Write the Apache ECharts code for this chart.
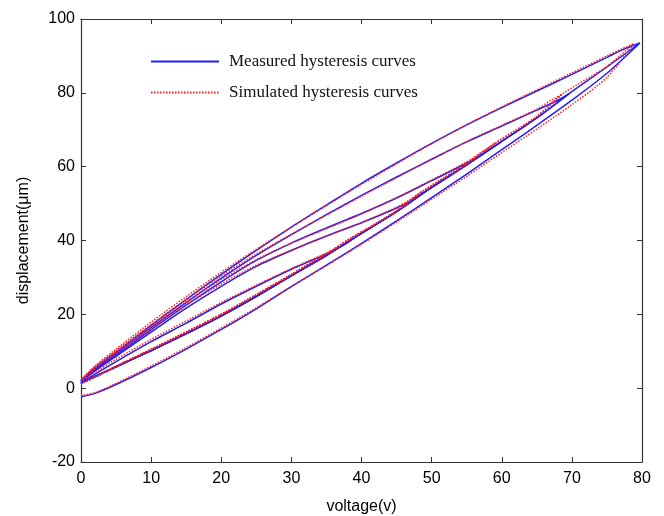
<!DOCTYPE html>
<html>
<head>
    <meta charset="UTF-8">
    <title>index.html</title>
    <script src="https://cdn.jsdelivr.net/npm/echarts@6.0.0/dist/echarts.min.js"></script>
    <style>
        body { margin: 0; background: #fff; }
        #chart { width: 664px; height: 516px; }
    </style>
</head>
<body>
<div id="chart"></div>
<script>
    // x ticks / y ticks
    var voltTicks = [0, 10, 20, 30, 40, 50, 60, 70, 80];
    var dispTicks = [-20, 0, 20, 40, 60, 80, 100];

    // peak voltages of the loops (measured / simulated)
    var measPeaks = [39, 49.3, 59.8, 69.6];
    var simPeaks = [38.5, 48.6, 59.1, 68.6];

    // measured: rising branch shared by the minor loops
    var measAsc = [[0, 1.5], [2, 3.2], [5, 5.8], [10, 10.2], [15, 14.8], [20, 19.6], [25, 24.9], [30, 30.5], [35, 36],
        [39, 40.8], [45, 47.8], [49.3, 53.5], [55, 60.5], [59.8, 66.6], [65, 73.2], [69.6, 79.8], [75, 87], [79.7, 93.5]];
    // measured: rising branch of the 80 V loop
    var measAsc80 = [[0, -2.3], [2, -1.4], [5, 1], [10, 5.6], [15, 10.6], [20, 15.9], [25, 21.5], [30, 27.5], [35, 33.3],
        [40, 39.2], [45, 45.3], [50, 51.6], [55, 58], [60, 64.6], [65, 71.2], [70, 78], [75, 85.3], [79.7, 93.5]];
    // measured: falling branches
    var measDesc80 = [[79.7, 93.5], [77, 91.5], [75, 89.6], [70, 85], [65, 80.5], [60, 76], [55, 71.3], [50, 66.3], [45, 61],
        [40, 55.5], [35, 49.6], [30, 43.6], [25, 37.3], [20, 30.8], [15, 24], [10, 17], [5, 9.8], [2, 5.5], [0, 2]];
    var measDesc70 = [[69.6, 79.8], [68, 78], [65, 75.3], [60, 71], [55, 66.7], [50, 62], [45, 57.2], [40, 52.2], [35, 47],
        [30, 41.6], [25, 36], [20, 29.8], [15, 23.2], [10, 16.4], [5, 9.4], [2, 5.2], [0, 1.9]];
    var measDesc60 = [[59.8, 66.6], [58, 64.4], [55, 61], [50, 56.2], [45, 51.5], [40, 47.3], [35, 43.4], [30, 39.3],
        [25, 34.6], [20, 28.8], [15, 22.5], [10, 15.8], [5, 9], [2, 5], [0, 1.8]];
    var measDesc50 = [[49.3, 53.5], [47.5, 51.3], [45, 48.8], [40, 44.8], [35, 41.2], [30, 37.3], [25, 33], [20, 27.6],
        [15, 21.7], [10, 15.2], [5, 8.6], [2, 4.7], [0, 1.7]];
    var measDesc40 = [[39, 40.8], [37.5, 38.8], [35, 36.4], [30, 32.2], [25, 27.6], [20, 22.8], [15, 17.6], [10, 12.6],
        [5, 7.2], [2, 3.8], [0, 1.5]];

    // simulated
    var simAsc = [[0, 1.2], [2, 3], [5, 5.9], [10, 10.5], [15, 15.2], [20, 20], [25, 25.3], [30, 30.8], [35, 36.4],
        [38.5, 40.6], [45, 48], [48.6, 53.2], [55, 60.8], [59.1, 66.4], [65, 73.6], [68.6, 79.6], [75, 87.2], [78.8, 93.3]];
    var simAsc80 = [[0, -2], [2, -1.2], [5, 1.3], [10, 6], [15, 11], [20, 16.3], [25, 21.8], [30, 27.6], [35, 33.2],
        [40, 39], [45, 45], [50, 51.2], [55, 57.4], [60, 63.8], [65, 70.2], [70, 76.8], [75, 84.2], [78.8, 93.3]];
    var simDesc80 = [[78.8, 93.3], [77, 91.8], [75, 90], [70, 85.4], [65, 80.8], [60, 76.2], [55, 71.4], [50, 66.2], [45, 60.8],
        [40, 55.2], [35, 49.5], [30, 43.6], [25, 37.6], [20, 31.4], [15, 24.8], [10, 17.9], [5, 10.6], [2, 6], [0, 2.3]];
    var simDesc70 = [[68.6, 79.6], [67, 77.9], [65, 75.6], [60, 71.2], [55, 66.8], [50, 62], [45, 57], [40, 52],
        [35, 46.9], [30, 41.7], [25, 36.3], [20, 30.4], [15, 24], [10, 17.2], [5, 10.2], [2, 5.8], [0, 2.2]];
    var simDesc60 = [[59.1, 66.4], [57.5, 64.4], [55, 61.3], [50, 56.4], [45, 51.6], [40, 47.2], [35, 43.2], [30, 39.3],
        [25, 34.8], [20, 29.4], [15, 23.3], [10, 16.6], [5, 9.8], [2, 5.6], [0, 2.1]];
    var simDesc50 = [[48.6, 53.2], [47, 51.2], [45, 49], [40, 44.9], [35, 41.2], [30, 37.4], [25, 33.3], [20, 28.2],
        [15, 22.5], [10, 16], [5, 9.4], [2, 5.3], [0, 2]];
    var simDesc40 = [[38.5, 40.6], [37, 38.7], [35, 36.6], [30, 32.4], [25, 27.9], [20, 23.2], [15, 18.2], [10, 13.2],
        [5, 7.8], [2, 4.3], [0, 1.8]];

    var MEAS = 'Measured hysteresis curves';
    var SIM = 'Simulated hysteresis curves';

    function loop(name, color, dash, asc, desc) {
        return {
            name: name,
            type: 'line',
            data: asc.concat(desc),
            symbol: 'none',
            smooth: 0.3,
            silent: true,
            color: color,
            lineStyle: {color: color, width: 1.5, type: dash}
        };
    }

    function upTo(branch, peak) {
        return branch.filter(function (p) { return p[0] <= peak; });
    }

    var measDesc = [measDesc40, measDesc50, measDesc60, measDesc70];
    var simDesc = [simDesc40, simDesc50, simDesc60, simDesc70];

    var series = [];
    // blue first, red dotted on top
    series.push(loop(MEAS, '#1e1eff', 'solid', measAsc80, measDesc80));
    series.push(loop(MEAS, '#1e1eff', 'solid', measAsc, []));
    for (var i = 0; i < measPeaks.length; i++) {
        series.push(loop(MEAS, '#1e1eff', 'solid', upTo(measAsc, measPeaks[i]), measDesc[i]));
    }
    series.push(loop(SIM, '#ff1e1e', [1.5, 1.5], simAsc80, simDesc80));
    series.push(loop(SIM, '#ff1e1e', [1.5, 1.5], simAsc, []));
    for (var j = 0; j < simPeaks.length; j++) {
        series.push(loop(SIM, '#ff1e1e', [1.5, 1.5], upTo(simAsc, simPeaks[j]), simDesc[j]));
    }

    var axisFont = {fontFamily: 'Liberation Sans', fontSize: 16, color: '#000'};
    var chart = echarts.init(document.getElementById('chart'));
    chart.setOption({
        animation: false,
        backgroundColor: '#fff',
        grid: {left: 81, right: 22, top: 19, bottom: 54, outerBoundsMode: 'none'},
        legend: {
            data: [MEAS, SIM],
            orient: 'vertical',
            left: 145,
            top: 48,
            itemWidth: 68,
            itemHeight: 14,
            itemGap: 14,
            itemStyle: {opacity: 0},
            textStyle: {fontFamily: 'Liberation Serif', fontSize: 17, color: '#111', padding: [0, 0, 0, 5]}
        },
        xAxis: [{
            type: 'value', min: voltTicks[0], max: voltTicks[voltTicks.length - 1], interval: 10,
            name: 'voltage(v)', nameLocation: 'middle', nameGap: 37,
            nameTextStyle: axisFont,
            axisLine: {onZero: false, lineStyle: {color: '#333', width: 1.2}},
            axisTick: {inside: true, length: 5, lineStyle: {color: '#333'}},
            axisLabel: Object.assign({margin: 9}, axisFont),
            splitLine: {show: false}
        }, {
            type: 'value', position: 'top', min: 0, max: 80, interval: 10,
            axisLine: {onZero: false, lineStyle: {color: '#333', width: 1.2}},
            axisTick: {inside: true, length: 5, lineStyle: {color: '#333'}},
            axisLabel: {show: false},
            splitLine: {show: false}
        }],
        yAxis: [{
            type: 'value', min: dispTicks[0], max: dispTicks[dispTicks.length - 1], interval: 20,
            name: 'displacement(\u03bcm)', nameLocation: 'middle', nameGap: 49,
            nameTextStyle: axisFont,
            axisLine: {onZero: false, lineStyle: {color: '#333', width: 1.2}},
            axisTick: {inside: true, length: 5, lineStyle: {color: '#333'}},
            axisLabel: Object.assign({margin: 6}, axisFont),
            splitLine: {show: false}
        }, {
            type: 'value', position: 'right', min: -20, max: 100, interval: 20,
            axisLine: {onZero: false, lineStyle: {color: '#333', width: 1.2}},
            axisTick: {inside: true, length: 5, lineStyle: {color: '#333'}},
            axisLabel: {show: false},
            splitLine: {show: false}
        }],
        series: series
    });
</script>
</body>
</html>
